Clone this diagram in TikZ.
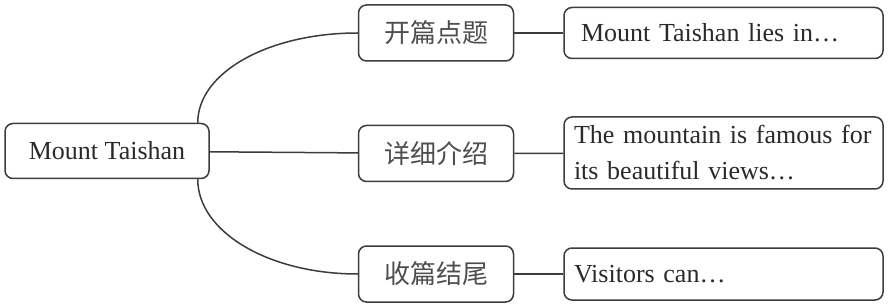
\documentclass[tikz,border=0pt]{standalone}
\usepackage{fontspec}
\setmainfont{Liberation Serif}
\newfontfamily\cjk{Noto Sans CJK SC}
\usepackage{tikz}
\usetikzlibrary{positioning}
\definecolor{linegray}{HTML}{3C3C3C}
\definecolor{textgray}{HTML}{2A2A2A}
\definecolor{cjkgray}{HTML}{4E4E4E}

\begin{document}
\begin{tikzpicture}[x=1pt,y=-1pt,
  every node/.style={font=\fontsize{26}{36}\selectfont,text=textgray},
  box/.style={draw=linegray,line width=1.5pt,rounded corners=8pt,inner sep=0pt},
  topic/.style={box,minimum width=204pt,minimum height=55pt},
  part/.style={box,minimum width=155pt,minimum height=56pt,font=\fontsize{26}{36}\selectfont\cjk,text=cjkgray},
  detail/.style={box,text width=299pt,inner xsep=10pt,align=left},
  link/.style={draw=linegray,line width=1.5pt}
]
  \useasboundingbox (0,0) rectangle (890,304);
  \node[topic] (root) at (107,151) {Mount Taishan};
  \node[part] (open) at (436,33) {开篇点题};
  \node[part] (body) at (436,153.5) {详细介绍};
  \node[part] (close) at (436,274) {收篇结尾};
  \node[detail,text width=285pt,inner xsep=17pt,minimum height=51pt] (lies) at (723.5,33) {Mount Taishan lies in…};
  \node[detail,minimum height=72pt] (views) at (723.5,153) {The mountain is famous for\\its beautiful views…};
  \node[detail,minimum height=52pt] (visit) at (723.5,274) {Visitors can…};
  \draw[link] ([xshift=-12pt]root.north east) .. controls +(0,-50.5) and +(-89,0) .. (open.west);
  \draw[link] (root) -- (body);
  \draw[link] ([xshift=-12pt]root.south east) .. controls +(0,52.7) and +(-89,0) .. (close.west);
  \draw[link] (open) -- (lies);
  \draw[link] (body) -- (views);
  \draw[link] (close) -- (visit);
\end{tikzpicture}
\end{document}
